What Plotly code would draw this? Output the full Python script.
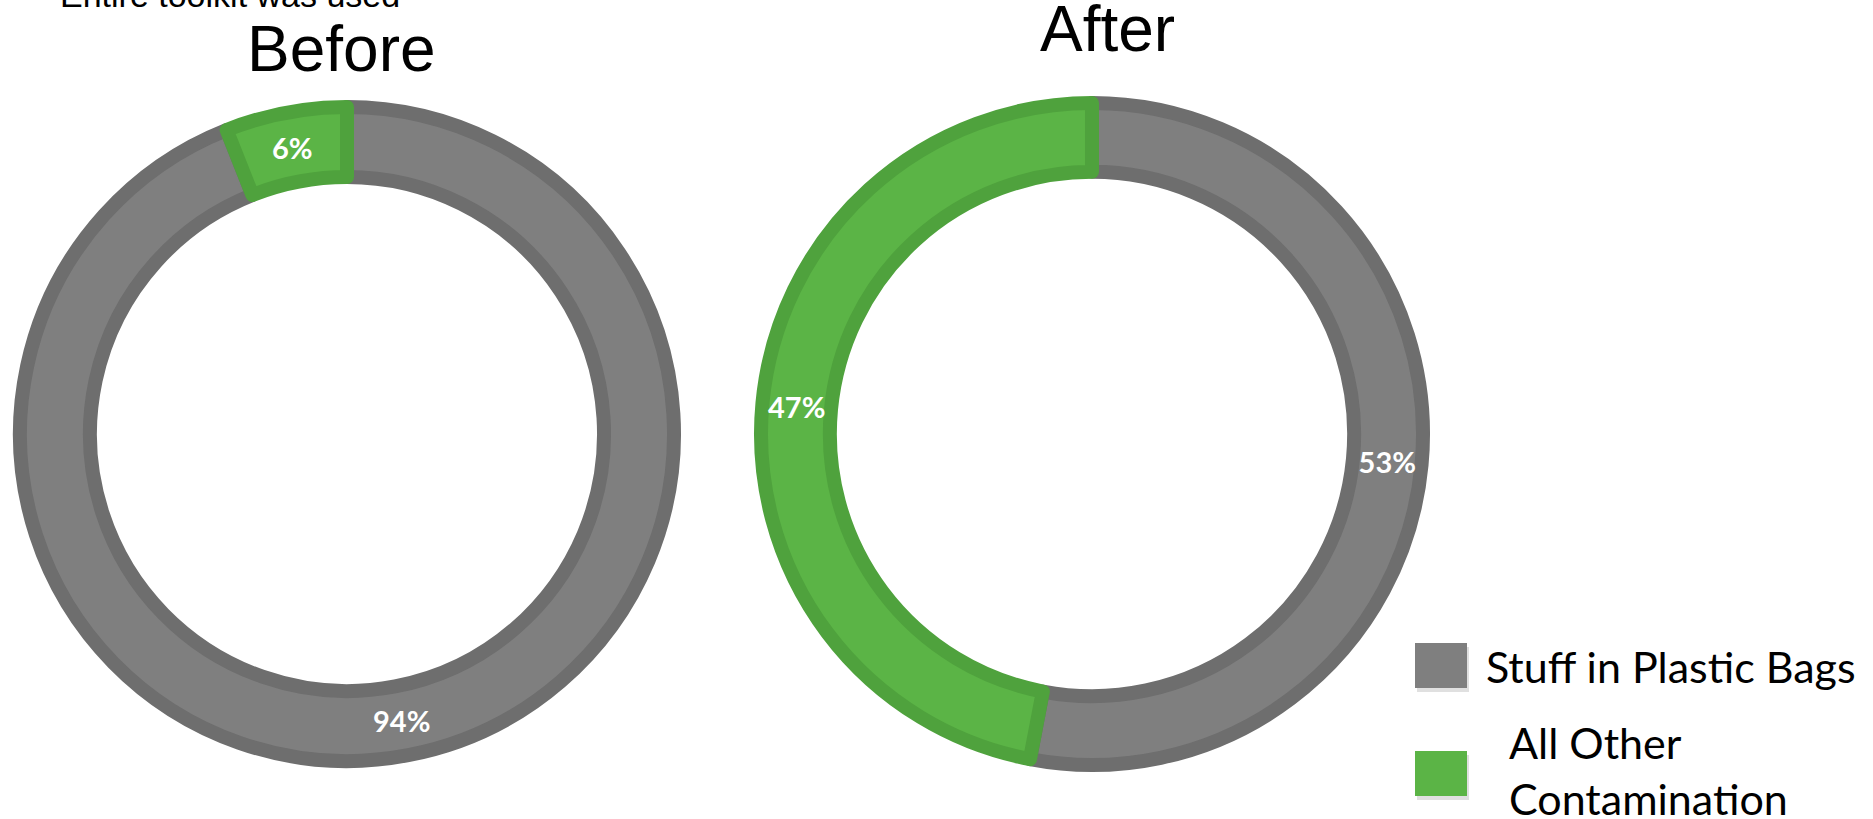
import plotly.graph_objects as go

# ---- data ----
labels = ["Stuff in Plastic Bags", "All Other Contamination"]
legend_text = ["Stuff in Plastic Bags", "All Other<br>Contamination"]
before_values = [94, 6]
after_values = [53, 47]
chart_titles = ["Before", "After"]
top_note = "Entire toolkit was used"

fill_colors = ["#7f7f7f", "#5bb446"]
edge_colors = ["#6e6e6e", "#4fa23d"]

W, H = 1873, 819


def fx(x):
    return x / W


def fy(y):
    return 1 - y / H


fig = go.Figure()

pie_common = dict(
    labels=labels,
    sort=False,
    direction="clockwise",
    textinfo="percent",
    texttemplate="%{percent:.0%}",
    textposition="inside",
    insidetextorientation="horizontal",
    insidetextfont=dict(family="Lato", size=29, color="white", weight="bold"),
    marker=dict(colors=fill_colors, line=dict(color=edge_colors, width=14)),
    showlegend=False,
    hoverinfo="label+percent",
)

# Before: centre (347, 434), radius 327
fig.add_trace(go.Pie(
    values=before_values, name=chart_titles[0], hole=0.786,
    domain=dict(x=[fx(20), fx(674)], y=[fy(761), fy(107)]),
    **pie_common,
))
# After: centre (1092, 434), radius 331
fig.add_trace(go.Pie(
    values=after_values, name=chart_titles[1], hole=0.792,
    domain=dict(x=[fx(761), fx(1423)], y=[fy(765), fy(103)]),
    **pie_common,
))

annotations = [
    dict(text=top_note, x=fx(230), y=fy(-5), xref="paper", yref="paper",
         xanchor="center", yanchor="middle", showarrow=False,
         font=dict(family="Liberation Sans", size=34, color="black")),
    dict(text=chart_titles[0], x=fx(341), y=fy(49), xref="paper", yref="paper",
         xanchor="center", yanchor="middle", showarrow=False,
         font=dict(family="Liberation Sans", size=64, color="black")),
    dict(text=chart_titles[1], x=fx(1107), y=fy(29), xref="paper", yref="paper",
         xanchor="center", yanchor="middle", showarrow=False,
         font=dict(family="Liberation Sans", size=64, color="black")),
    dict(text=legend_text[0], x=fx(1484), y=fy(666), xref="paper", yref="paper",
         xanchor="left", yanchor="middle", align="left", showarrow=False,
         font=dict(family="Lato", size=43, color="black")),
    dict(text=legend_text[1], x=fx(1507), y=fy(770), xref="paper", yref="paper",
         xanchor="left", yanchor="middle", align="left", showarrow=False,
         font=dict(family="Lato", size=43, color="black")),
]

shapes = []
legend_boxes = [(643, 688), (751, 796)]
for (y0, y1), c in zip(legend_boxes, fill_colors):
    shapes.append(dict(type="rect", xref="paper", yref="paper",
                       x0=fx(1417), x1=fx(1469), y0=fy(y1 + 4), y1=fy(y0 + 4),
                       fillcolor="rgba(0,0,0,0.12)", line=dict(width=0), layer="below"))
    shapes.append(dict(type="rect", xref="paper", yref="paper",
                       x0=fx(1415), x1=fx(1467), y0=fy(y1), y1=fy(y0),
                       fillcolor=c, line=dict(width=0)))

fig.update_layout(
    width=W, height=H,
    margin=dict(l=0, r=0, t=0, b=0),
    paper_bgcolor="white",
    plot_bgcolor="white",
    annotations=annotations,
    shapes=shapes,
)

fig.write_html("out.html")
